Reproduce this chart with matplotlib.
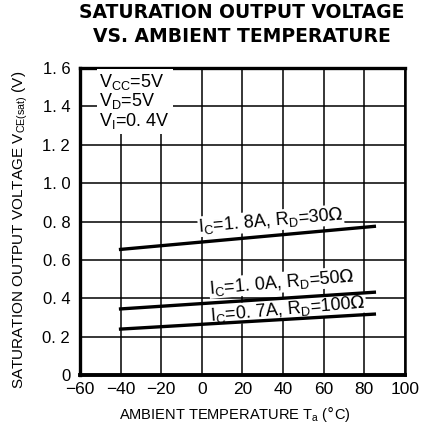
import numpy as np
import matplotlib.pyplot as plt

plt.rcParams['font.family'] = ['Liberation Sans', 'DejaVu Sans']

# data
temps = [-40, 85]
v_18a = [0.655, 0.775]
v_10a = [0.345, 0.432]
v_07a = [0.240, 0.318]

x_ticks = [-60, -40, -20, 0, 20, 40, 60, 80, 100]
x_labels = ['\u221260', '\u221240', '\u221220', '0', '20', '40', '60', '80', '100']
y_ticks = [0, 0.2, 0.4, 0.6, 0.8, 1.0, 1.2, 1.4, 1.6]
y_labels = ['0', '0. 2', '0. 4', '0. 6', '0. 8', '1. 0', '1. 2', '1. 4', '1. 6']

fig = plt.figure(figsize=(4.23, 4.44), dpi=100)
ax = fig.add_axes([0.189, 0.155, 0.768, 0.692])

ax.set_xlim(-60, 100)
ax.set_ylim(0, 1.6)
ax.set_xticks(x_ticks)
ax.set_xticklabels(x_labels, fontsize=12.5)
ax.set_yticks(y_ticks)
ax.set_yticklabels(y_labels, fontsize=12)
ax.tick_params(axis='x', length=0, pad=5)
ax.tick_params(axis='y', length=0, pad=7)
ax.grid(True, color='black', linewidth=1.1)
ax.set_axisbelow(True)

for side, lw in [('left', 2.4), ('bottom', 2.8), ('top', 2.4), ('right', 1.8)]:
    ax.spines[side].set_linewidth(lw)

ax.plot(temps, v_18a, color='black', linewidth=2.4, zorder=5)
ax.plot(temps, v_10a, color='black', linewidth=2.4, zorder=5)
ax.plot(temps, v_07a, color='black', linewidth=2.4, zorder=5)

box = dict(facecolor='white', edgecolor='none', pad=0.3)
ax.text(34, 0.805, r'$\mathregular{I_C}$=1. 8A, $\mathregular{R_D}$=30$\Omega$',
        rotation=5, ha='center', va='center', fontsize=13, bbox=box, zorder=4)
ax.text(39.5, 0.484, r'$\mathregular{I_C}$=1. 0A, $\mathregular{R_D}$=50$\Omega$',
        rotation=5, ha='center', va='center', fontsize=13, bbox=box, zorder=4)
ax.text(42.5, 0.345, r'$\mathregular{I_C}$=0. 7A, $\mathregular{R_D}$=100$\Omega$',
        rotation=5, ha='center', va='center', fontsize=13, bbox=box, zorder=4)

ax.text(-50.5, 1.58, r'$\mathregular{V_{CC}}$=5V' + '\n' + r'$\mathregular{V_D}$=5V' + '\n' + r'$\mathregular{V_I}$=0. 4V',
        ha='left', va='top', fontsize=13, linespacing=0.98,
        bbox=dict(facecolor='white', edgecolor='none', pad=2.0), zorder=4)

fig.text(0.572, 0.971, 'SATURATION OUTPUT VOLTAGE', ha='center', va='center',
         fontsize=13.5, fontweight='bold', family='DejaVu Sans')
fig.text(0.572, 0.917, 'VS. AMBIENT TEMPERATURE', ha='center', va='center',
         fontsize=13.5, fontweight='bold', family='DejaVu Sans')

fig.text(0.555, 0.068, r'AMBIENT TEMPERATURE $\mathregular{T_a}$ ($\degree$C)',
         ha='center', va='center', fontsize=10.5)
fig.text(0.047, 0.482, r'SATURATION OUTPUT VOLTAGE $\mathregular{V_{CE(sat)}}$ (V)',
         ha='center', va='center', rotation=90, fontsize=11)

fig.savefig('out.png', dpi=100)
